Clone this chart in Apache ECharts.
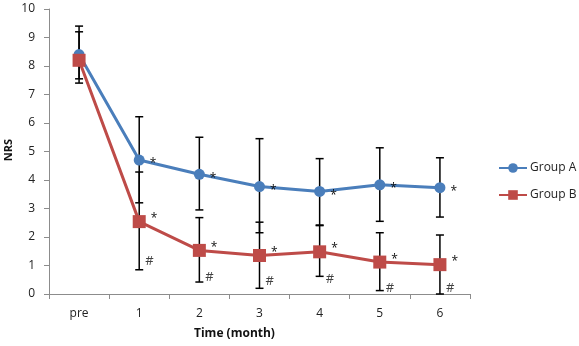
<!DOCTYPE html>
<html><head><meta charset="utf-8">
<script src="https://cdn.jsdelivr.net/npm/echarts@6/dist/echarts.min.js"></script>
<style>html,body{margin:0;padding:0;background:#fff}#c{width:579px;height:346px}</style>
</head><body><div id="c"></div>
<script>
const categories = ['pre','1','2','3','4','5','6'];
const groupA = [8.4, 4.7, 4.2, 3.77, 3.6, 3.83, 3.73];
const groupALow = [7.4, 3.2, 2.95, 2.15, 2.4, 2.55, 2.7];
const groupAHigh = [9.4, 6.22, 5.5, 5.45, 4.75, 5.13, 4.78];
const groupB = [8.2, 2.54, 1.53, 1.35, 1.48, 1.12, 1.03];
const groupBLow = [7.55, 0.85, 0.42, 0.2, 0.62, 0.12, 0];
const groupBHigh = [9.2, 4.28, 2.68, 2.52, 2.42, 2.15, 2.07];
const starA = ['', '*', '*', '*', '*', '*', '*'];
const starB = ['', '*', '*', '*', '*', '*', '*'];
const hashY = [null, 1.15, 0.6, 0.45, 0.5, 0.2, 0.2];
const yTicks = [0,1,2,3,4,5,6,7,8,9,10];

const chart = echarts.init(document.getElementById('c'));
const font = '"Open Sans", "Noto Sans", sans-serif';

function errSeries(low, high) {
  return {
    type: 'custom',
    silent: true,
    z: 1,
    data: categories.map((c, i) => [i, low[i], high[i]]),
    renderItem: function (params, api) {
      const x = api.value(0);
      const lo = api.coord([x, api.value(1)]);
      const hi = api.coord([x, api.value(2)]);
      const w = 4;
      const st = { stroke: '#000', lineWidth: 1.5 };
      return { type: 'group', children: [
        { type: 'line', shape: { x1: lo[0], y1: lo[1], x2: hi[0], y2: hi[1] }, style: st },
        { type: 'line', shape: { x1: lo[0]-w, y1: lo[1], x2: lo[0]+w, y2: lo[1] }, style: st },
        { type: 'line', shape: { x1: hi[0]-w, y1: hi[1], x2: hi[0]+w, y2: hi[1] }, style: st }
      ]};
    }
  };
}

chart.setOption({
  animation: false,
  grid: { left: 49, right: 109, top: 9, bottom: 52 },
  xAxis: {
    type: 'category', data: categories, boundaryGap: true,
    axisLine: { lineStyle: { color: '#8c8c8c', width: 1 } },
    axisTick: { show: true, length: 5, lineStyle: { color: '#8c8c8c' } },
    axisLabel: { color: '#222', fontSize: 12, fontFamily: font, margin: 14 }
  },
  yAxis: {
    type: 'value', min: 0, max: 10, interval: 1,
    splitLine: { show: false },
    axisLine: { show: true, lineStyle: { color: '#8c8c8c', width: 1 } },
    axisTick: { show: true, length: 5, lineStyle: { color: '#8c8c8c' } },
    axisLabel: { color: '#222', fontSize: 12, fontFamily: font, margin: 14,
      formatter: v => yTicks.includes(v) ? String(v) : '' }
  },
  legend: {
    orient: 'vertical', left: 493, top: 157, itemGap: 15,
    itemWidth: 28, itemHeight: 12,
    textStyle: { color: '#222', fontSize: 12, fontFamily: font, padding: [0, 0, 0, -2] },
    data: ['Group A', 'Group B']
  },
  graphic: [
    { type: 'text', left: 3, top: 139, rotation: Math.PI/2,
      style: { text: 'NRS', fontSize: 11, fontWeight: 'bold', fontFamily: font, fill: '#111' } },
    { type: 'text', left: 194, top: 328,
      style: { text: 'Time (month)', fontSize: 12, fontWeight: 'bold', fontFamily: font, fill: '#111' } }
  ],
  series: [
    errSeries(groupALow, groupAHigh),
    errSeries(groupBLow, groupBHigh),
    {
      name: 'Group A', type: 'line', data: groupA, z: 3,
      symbol: 'circle', symbolSize: 11,
      lineStyle: { color: '#4a7ebb', width: 3 },
      itemStyle: { color: '#4a7ebb' },
      label: { show: true, position: 'right', distance: 5, offset: [0, 4],
        formatter: p => starA[p.dataIndex], color: '#111', fontSize: 12, fontFamily: font }
    },
    {
      name: 'Group B', type: 'line', data: groupB, z: 3,
      symbol: 'rect', symbolSize: 13,
      lineStyle: { color: '#be4b48', width: 3 },
      itemStyle: { color: '#be4b48' },
      label: { show: true, position: 'right', distance: 5, offset: [0, -3],
        formatter: p => starB[p.dataIndex], color: '#111', fontSize: 12, fontFamily: font }
    },
    {
      type: 'scatter', data: hashY, symbolSize: 0, silent: true, z: 4,
      label: { show: true, position: 'right', distance: 6, offset: [0, 0],
        formatter: '#', color: '#111', fontSize: 13, fontFamily: font }
    }
  ]
});
</script></body></html>
